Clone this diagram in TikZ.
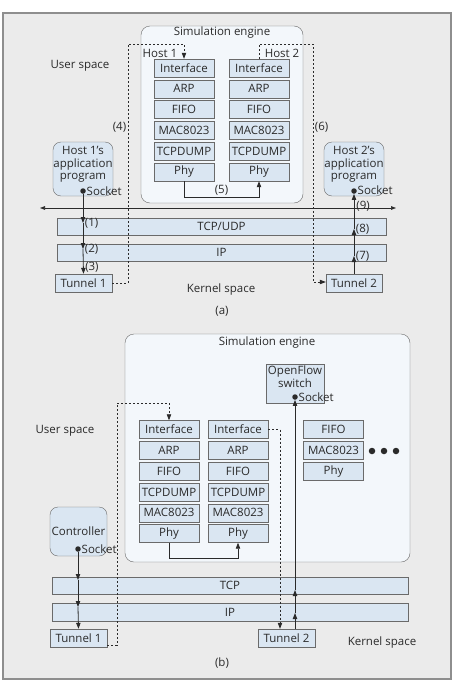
\documentclass[tikz,border=0pt]{standalone}
\usepackage{fontspec}
\setmainfont{Open Sans}
\usetikzlibrary{positioning, arrows.meta}

\definecolor{panelgray}{HTML}{EBEBEB}
\definecolor{framegray}{HTML}{8E8E8E}
\definecolor{edgegray}{HTML}{6A6A6A}
\definecolor{boxblue}{HTML}{DAE6F2}
\definecolor{engineblue}{HTML}{F3F7FB}
\definecolor{inkgray}{HTML}{2A2A2A}

\tikzset{
    every node/.style={text=inkgray, font=\fontsize{11.5}{12.5}\selectfont},
    box/.style={draw=edgegray, fill=boxblue, minimum width=60pt, minimum height=18pt, inner sep=0pt},
    layer/.style={draw=edgegray, fill=boxblue, minimum height=17pt, inner sep=0pt},
    app/.style={draw=edgegray, fill=boxblue, rounded corners=8pt, inner sep=0pt, align=center},
    engine/.style={draw=edgegray, fill=engineblue, rounded corners=9pt, inner sep=0pt},
    sock/.style={circle, fill=inkgray, inner sep=0pt, minimum size=5.5pt},
    lbl/.style={inner sep=1.5pt},
    socklbl/.style={inner sep=0.5pt, anchor=west},
    tip/.style={-{Triangle[length=6pt, width=4.4pt]}},
    flow/.style={draw=inkgray, line width=0.8pt, tip},
    plain/.style={draw=inkgray, line width=0.8pt},
    dashline/.style={draw=inkgray, line width=0.7pt, dash pattern=on 2.2pt off 1.8pt}
}

\begin{document}
\begin{tikzpicture}[x=1pt, y=-1pt]
    \useasboundingbox (0,0) rectangle (453,680);
    \draw[fill=panelgray, draw=framegray, line width=1.4pt] (3,13) rectangle (451,679);

    % ---------- (a) ----------
    % Nodes
    \node[engine, minimum width=162pt, minimum height=177pt] (EngineA) at (222,114.5) {};
    \node[lbl] (EngineTitleA) at (222,33) {Simulation engine};
    \node[lbl, anchor=west] (HostOneLbl) at (141,53) {Host 1};
    \node[lbl, anchor=east] (HostTwoLbl) at (301,53) {Host 2};

    \node[box] (IfaceA1) at (184,68) {Interface};
    \node[box] (ArpA1) at (184,88.8) {ARP};
    \node[box] (FifoA1) at (184,109.6) {FIFO};
    \node[box] (MacA1) at (184,130.4) {MAC8023};
    \node[box] (DumpA1) at (184,151.2) {TCPDUMP};
    \node[box] (PhyA1) at (184,172) {Phy};

    \node[box] (IfaceA2) at (259,68) {Interface};
    \node[box] (ArpA2) at (259,88.8) {ARP};
    \node[box] (FifoA2) at (259,109.6) {FIFO};
    \node[box] (MacA2) at (259,130.4) {MAC8023};
    \node[box] (DumpA2) at (259,151.2) {TCPDUMP};
    \node[box] (PhyA2) at (259,172) {Phy};

    \node[app, minimum width=60pt, minimum height=54pt] (HostOneApp) at (83,169) {Host 1’s\\application\\program\\[-1pt]};
    \node[app, minimum width=60pt, minimum height=54pt] (HostTwoApp) at (354,169) {Host 2’s\\application\\program\\[-1pt]};
    \node[sock] (SockA1) at (83,191) {};
    \node[sock] (SockA2) at (354,191) {};
    \node[socklbl] at (86,191) {Socket};
    \node[socklbl] at (357,190) {Socket};

    \node[layer, minimum width=329pt] (TcpUdpA) at (221.5,226.5) {TCP/UDP};
    \node[layer, minimum width=329pt] (IpA) at (221.5,252.5) {IP};
    \node[box, minimum width=57pt] (TunnelA1) at (83.5,283) {Tunnel 1};
    \node[box, minimum width=56pt] (TunnelA2) at (354,283) {Tunnel 2};

    \node[lbl] (UserA) at (80,66) {User space};
    \node[lbl] (KernelA) at (221,290) {Kernel space};
    \node[lbl] (CaptionA) at (222,311) {(a)};

    \coordinate (AxisL) at (40,208);
    \coordinate (AxisR) at (396,208);
    \coordinate (StepA1) at (83,223);
    \coordinate (StepA2) at (83,249);
    \coordinate (StepA7) at (354,256);
    \coordinate (StepA8) at (354,229);

    % Edges
    \draw[plain, {Triangle[length=5pt, width=3.6pt]}-{Triangle[length=5pt, width=3.6pt]}, line width=0.6pt] (AxisL) -- (AxisR);
    % down through the kernel
    \draw[flow] (SockA1) -- (StepA1) node[lbl, right, pos=1] {(1)};
    \draw[flow] (StepA1) -- (StepA2) node[lbl, right, pos=1] {(2)};
    \draw[flow] (StepA2) -- (TunnelA1.north) node[lbl, right, pos=0.72] {(3)};
    % tunnel to the engine and back
    \draw[dashline, tip] (TunnelA1.east) -- (128,283) -- (128,44) node[lbl, left, pos=0.65] {(4)} -- (184,44) -- (IfaceA1.north);
    \draw[plain, tip] (PhyA1.south) -- (184,197) -- node[lbl, above] {(5)} (259,197) -- (PhyA2.south);
    \draw[dashline, tip] (IfaceA2.north) -- (259,44) -- (313,44) -- (313,282) node[lbl, right, pos=0.35] {(6)} -- (TunnelA2.west |- 0,282);
    % up through the kernel
    \draw[flow] (TunnelA2.north) -- (StepA7) node[lbl, right, pos=1] {(7)};
    \draw[flow] (StepA7) -- (StepA8) node[lbl, right, pos=1] {(8)};
    \draw[flow] (StepA8) -- (SockA2) node[right, inner sep=0.5pt, xshift=1.5pt, pos=0.66] {(9)};

    % ---------- (b) ----------
    % Nodes
    \node[engine, minimum width=285pt, minimum height=228pt] (EngineB) at (267.5,448) {};
    \node[lbl] (EngineTitleB) at (267,343) {Simulation engine};
    \node[box, minimum width=58pt, minimum height=39pt, align=center] (Switch) at (295,383.5) {OpenFlow\\switch\\[1pt]};
    \node[sock] (SockSwitch) at (295,397) {};
    \node[socklbl] at (298,397) {Socket};

    \node[box] (IfaceB1) at (169,429.5) {Interface};
    \node[box] (ArpB1) at (169,450.3) {ARP};
    \node[box] (FifoB1) at (169,471.1) {FIFO};
    \node[box] (DumpB1) at (169,491.9) {TCPDUMP};
    \node[box] (MacB1) at (169,512.7) {MAC8023};
    \node[box] (PhyB1) at (169,533.5) {Phy};

    \node[box] (IfaceB2) at (238,429.5) {Interface};
    \node[box] (ArpB2) at (238,450.3) {ARP};
    \node[box] (FifoB2) at (238,471.1) {FIFO};
    \node[box] (DumpB2) at (238,491.9) {TCPDUMP};
    \node[box] (MacB2) at (238,512.7) {MAC8023};
    \node[box] (PhyB2) at (238,533.5) {Phy};

    \node[box] (FifoB3) at (333.5,429.5) {FIFO};
    \node[box] (MacB3) at (333.5,450.3) {MAC8023};
    \node[box] (PhyB3) at (333.5,471.1) {Phy};
    \node[sock, minimum size=6.5pt] (MoreA) at (372,451) {};
    \node[sock, minimum size=6.5pt] (MoreB) at (384,451) {};
    \node[sock, minimum size=6.5pt] (MoreC) at (396,451) {};

    \node[app, minimum width=57pt, minimum height=49pt] (Controller) at (78.5,531.5) {Controller};
    \node[sock] (SockCtrl) at (78,549) {};
    \node[socklbl] at (81,549) {Socket};

    \node[layer, minimum width=356pt] (TcpB) at (230,585.5) {TCP};
    \node[layer, minimum width=356pt, minimum height=18pt] (IpB) at (230,612) {IP};
    \node[box, minimum width=57pt] (TunnelB1) at (78.5,638) {Tunnel 1};
    \node[box, minimum width=57pt] (TunnelB2) at (286.5,638) {Tunnel 2};

    \node[lbl] (UserB) at (65,431) {User space};
    \node[lbl] (KernelB) at (382,643) {Kernel space};
    \node[lbl] (CaptionB) at (222,663) {(b)};

    \coordinate (StepB1) at (78,580);
    \coordinate (StepB2) at (78,607);
    \coordinate (StepB3) at (295,613);
    \coordinate (StepB4) at (295,590);

    % Edges
    \draw[flow] (SockCtrl) -- (StepB1);
    \draw[flow] (StepB1) -- (StepB2);
    \draw[flow] (StepB2) -- (TunnelB1.north);
    \draw[dashline, tip] (TunnelB1.east |- 0,645) -- (117,645) -- (117,403) -- (169,403) -- (IfaceB1.north);
    \draw[plain, tip] (PhyB1.south) -- (169,558) -- (238,558) -- (PhyB2.south);
    \draw[dashline, tip] (IfaceB2.east) -- (280,429.5) -- (TunnelB2.north -| 280,0);
    \draw[flow] (295,629) -- (StepB3);
    \draw[flow] (StepB3) -- (StepB4);
    \draw[flow] (StepB4) -- (SockSwitch);

\end{tikzpicture}
\end{document}
